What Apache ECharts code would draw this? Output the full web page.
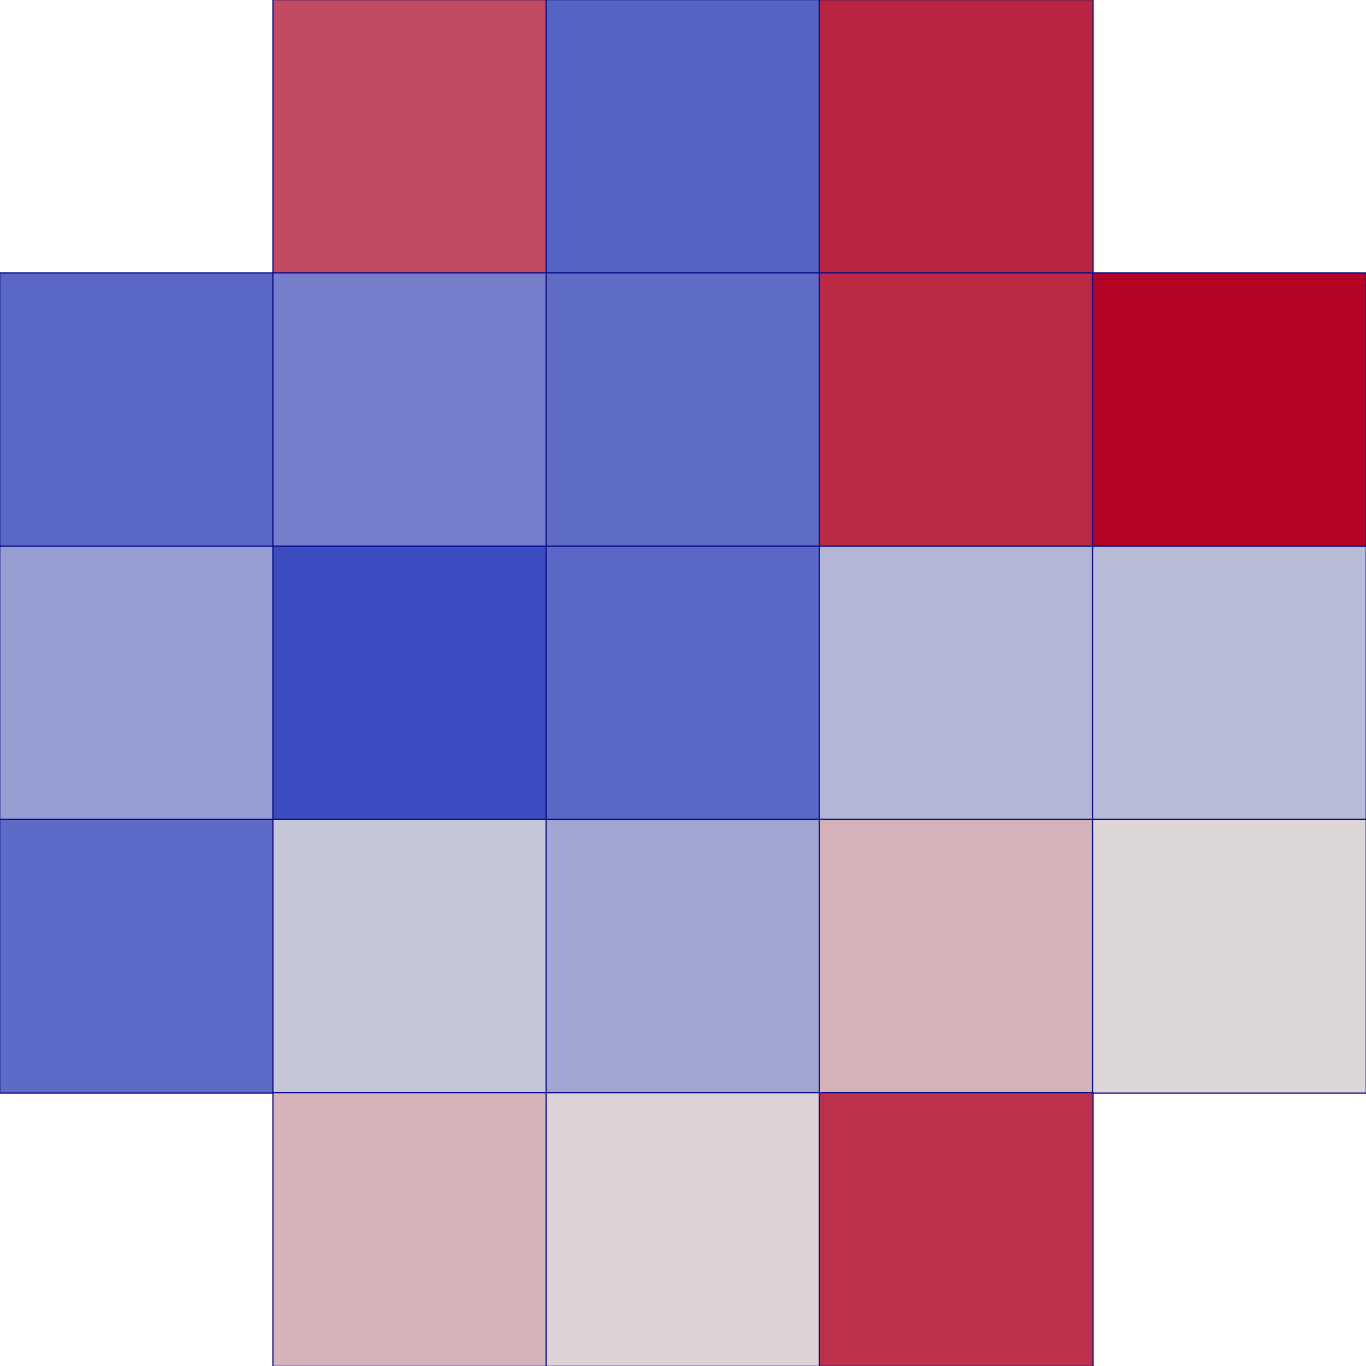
<!DOCTYPE html>
<html>
<head>
<meta charset="utf-8">
<script src="https://cdn.jsdelivr.net/npm/echarts@6/dist/echarts.min.js"></script>
<style>html,body{margin:0;padding:0;background:#fff}#c{width:1366px;height:1366px}</style>
</head>
<body>
<div id="c"></div>
<script>
const xCategories = ['0','1','2','3','4'];
const yCategories = ['0','1','2','3','4'];
// rows top to bottom, null = empty cell
const row0 = [null, 0.67, -0.84, 0.85, null];
const row1 = [-0.81, -0.65, -0.78, 0.83, 1.0];
const row2 = [-0.44, -1.0, -0.81, -0.26, -0.23];
const row3 = [-0.79, -0.15, -0.37, 0.20, 0.03];
const row4 = [null, 0.19, 0.04, 0.79, null];
const rows = [row0, row1, row2, row3, row4];

const data = [];
rows.forEach((r, yi) => r.forEach((v, xi) => { if (v !== null) data.push([xi, yi, v]); }));

const chart = echarts.init(document.getElementById('c'));
chart.setOption({
  animation: false,
  grid: {left: 0, right: 0, top: 0, bottom: 0},
  xAxis: {type: 'category', data: xCategories, show: false},
  yAxis: {type: 'category', data: yCategories, show: false, inverse: true},
  visualMap: {show: false, min: -1, max: 1, calculable: false,
    inRange: {color: ['#3b4cc0', '#dddcdc', '#b40426']}},
  series: [{
    type: 'heatmap',
    data: data,
    itemStyle: {borderColor: '#0c0c8a', borderWidth: 1.2}
  }]
});
</script>
</body>
</html>
